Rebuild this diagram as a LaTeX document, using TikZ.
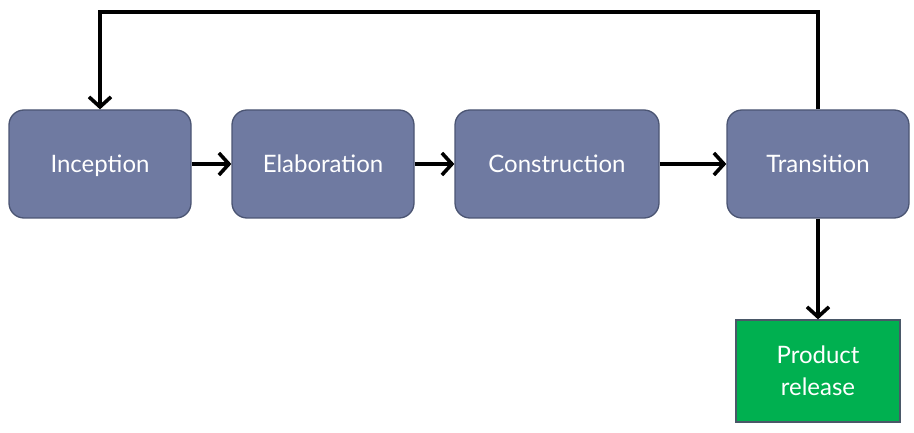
\documentclass[tikz,border=0pt]{standalone}
\usepackage{fontspec}
\setmainfont{Lato}
\usepackage{tikz}
\usetikzlibrary{arrows.meta}

\definecolor{phaseblue}{HTML}{6F7AA1}
\definecolor{phaseedge}{HTML}{4B5573}
\definecolor{relgreen}{HTML}{00B050}
\definecolor{reledge}{HTML}{4A5868}

\tikzset{
  phase/.style={draw=phaseedge, line width=1.3pt, fill=phaseblue, rounded corners=15pt,
    minimum height=108pt, text=white, font=\fontsize{24}{28}\selectfont, inner sep=0pt,
    text height=20pt, text depth=2pt},
  release/.style={draw=reledge, line width=1.3pt, fill=relgreen, minimum width=164pt,
    minimum height=102pt, text=white, align=center, font=\fontsize{24}{32}\selectfont},
  flow/.style={line width=3.6pt, -{Straight Barb[length=10pt,width=22pt,line width=3.6pt]}}
}

\begin{document}
\begin{tikzpicture}[x=1pt, y=-1pt]
  \useasboundingbox (0,0) rectangle (914,433);

  \node[phase, minimum width=182pt] (incep) at (100,164) {Inception};
  \node[phase, minimum width=182pt] (elab)  at (323,164) {Elaboration};
  \node[phase, minimum width=204pt] (cons)  at (557,164) {Construction};
  \node[phase, minimum width=182pt] (trans) at (818,164) {Transition};
  \node[release] (rel) at (818,371) {Product\\release};

  % phase flow
  \draw[flow] (incep) -- (elab);
  \draw[flow] (elab) -- (cons);
  \draw[flow] (cons) -- (trans);
  \draw[flow] (trans) -- (rel);

  % iteration back to start
  \draw[flow, line join=miter] (trans.north) -- (818,12) -- (100,12) -- (incep.north);
\end{tikzpicture}
\end{document}
